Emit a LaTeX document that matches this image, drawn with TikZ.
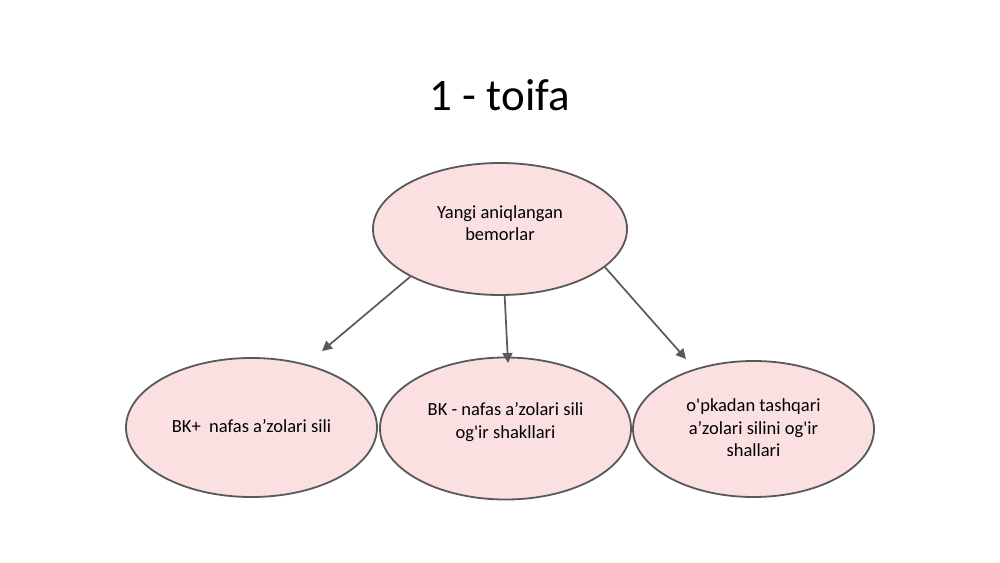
\documentclass[tikz,border=0pt]{standalone}
\usepackage{fontspec}
\setmainfont{Carlito}[Ligatures=TeXOff]
\usetikzlibrary{shapes.geometric,arrows.meta}
\definecolor{bubblefill}{RGB}{250,224,224}
\definecolor{edgegray}{RGB}{89,89,89}
\tikzset{
  bubble/.style={ellipse, draw=edgegray, line width=1.8pt, fill=bubblefill, inner sep=0pt},
  btext/.style={align=center, font=\fontsize{18.5}{22.5}\selectfont, text=black, inner sep=0pt},
  arr/.style={draw=edgegray, line width=1.7pt, -{Triangle[length=10pt,width=10pt]}},
}
\begin{document}
\begin{tikzpicture}[x=1pt,y=-1pt]
\useasboundingbox (0,0) rectangle (1000,562);
\fill[white] (0,0) rectangle (1000,562);
\node[font=\fontsize{45}{50}\selectfont] (title) at (500,95) {1 - toifa};
\node[bubble, minimum width=254pt, minimum height=132pt] (top) at (500,229) {};
\node[bubble, minimum width=251pt, minimum height=139pt] (left) at (251.5,427.5) {};
\node[bubble, minimum width=251pt, minimum height=142pt] (mid) at (505.5,428.5) {};
\node[bubble, minimum width=241pt, minimum height=136pt] (right) at (753.5,429) {};
\node[btext] (toptext) at (500,223) {Yangi aniqlangan\\bemorlar};
\node[btext] (lefttext) at (251.5,426) {BK+\ \ nafas a’zolari sili};
\node[btext] (midtext) at (505.5,422) {BK - nafas a’zolari sili\\og'ir shakllari};
\node[btext] (righttext) at (753.5,428) {o'pkadan tashqari\\a’zolari silini og'ir\\shallari};
\coordinate (e1) at (322,351);
\coordinate (e2) at (508,363);
\coordinate (e3) at (686,359);
\draw[arr] (top.-152) -- (e1);
\draw[arr] (top.-86) -- (e2);
\draw[arr] (top.-20) -- (e3);
\end{tikzpicture}
\end{document}
